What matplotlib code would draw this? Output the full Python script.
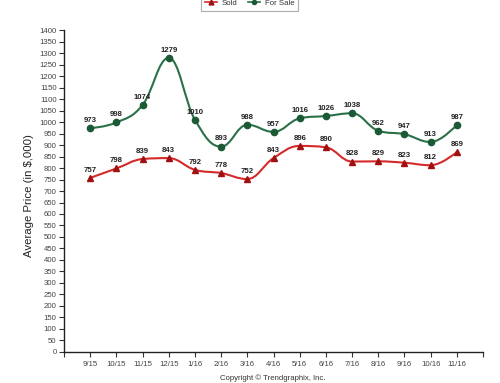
import matplotlib
matplotlib.use("Agg")
import matplotlib.pyplot as plt
from matplotlib.path import Path
from matplotlib.patches import PathPatch
from matplotlib.lines import Line2D

plt.rcParams['font.family'] = ['Liberation Sans', 'DejaVu Sans']

months = ["9/15", "10/15", "11/15", "12/15", "1/16", "2/16", "3/16", "4/16",
          "5/16", "6/16", "7/16", "8/16", "9/16", "10/16", "11/16"]
sold = [757, 798, 839, 843, 792, 778, 752, 843, 896, 890, 828, 829, 823, 812, 869]
for_sale = [973, 998, 1074, 1279, 1010, 893, 988, 957, 1016, 1026, 1038, 962, 947, 913, 987]

RED = "#d42a2a"
RED_M = "#a01010"
GREEN = "#2a7048"
GREEN_M = "#1c5a36"
TS = 5.6


def spline_path(xs, ys, smoothing=1.5):
    n = len(xs)
    lc = [(x, y) for x, y in zip(xs, ys)]
    rc = [(x, y) for x, y in zip(xs, ys)]
    d = smoothing + 1
    for i in range(1, n - 1):
        px, py = xs[i], ys[i]
        lx, ly = xs[i - 1], ys[i - 1]
        nx, ny = xs[i + 1], ys[i + 1]
        lcx = (smoothing * px + lx) / d
        lcy = (smoothing * py + ly) / d
        rcx = (smoothing * px + nx) / d
        rcy = (smoothing * py + ny) / d
        corr = ((rcy - lcy) * (rcx - px)) / (rcx - lcx) + py - rcy
        lcy += corr
        rcy += corr
        if lcy > ly and lcy > py:
            lcy = max(ly, py)
            rcy = 2 * py - lcy
        elif lcy < ly and lcy < py:
            lcy = min(ly, py)
            rcy = 2 * py - lcy
        if rcy > ny and rcy > py:
            rcy = max(ny, py)
            lcy = 2 * py - rcy
        elif rcy < ny and rcy < py:
            rcy = min(ny, py)
            lcy = 2 * py - rcy
        lc[i] = (lcx, lcy)
        rc[i] = (rcx, rcy)
    verts = [(xs[0], ys[0])]
    codes = [Path.MOVETO]
    for i in range(1, n):
        verts += [rc[i - 1], lc[i], (xs[i], ys[i])]
        codes += [Path.CURVE4] * 3
    return Path(verts, codes)


fig = plt.figure(figsize=(5.0, 3.83), dpi=100)
ax = fig.add_axes([0.128, 0.081, 0.838, 0.8406])

x = list(range(len(months)))
for vals, lc, mc, mk, ms in [(sold, RED, RED_M, '^', 5), (for_sale, GREEN, GREEN_M, 'o', 4.5)]:
    ax.add_patch(PathPatch(spline_path(x, vals), facecolor='none', edgecolor=lc, lw=1.5, zorder=2))
    ax.plot(x, vals, linestyle='none', marker=mk, markersize=ms, color=mc, zorder=3)
    for xi, v in zip(x, vals):
        ax.annotate(str(v), (xi, v), xytext=(0, 3.0), textcoords='offset points',
                    ha='center', va='bottom', fontsize=TS, fontweight='bold', color='#222222', zorder=4)

ax.set_xlim(-1, 15)
ax.set_ylim(0, 1400)
ax.set_xticks(list(range(-1, 16)))
ax.set_xticklabels([''] + months + [''])
ax.set_yticks(list(range(0, 1401, 50)))
ax.tick_params(axis='both', labelsize=TS, labelcolor='#444444', color='#333333', length=3.8, width=0.8, pad=1.5)
ax.tick_params(axis='x', pad=3)
for s in ['top', 'right']:
    ax.spines[s].set_visible(False)
for s in ['left', 'bottom']:
    ax.spines[s].set_color('#222222')
    ax.spines[s].set_linewidth(1.0)

fig.text(29 / 500, 1 - 196 / 383, "Average Price (in $,000)", rotation=90, ha='center', va='center',
         fontsize=8.2, color='#222222')

handles = [Line2D([], [], color=RED, marker='^', markersize=3.5, markerfacecolor=RED_M, markeredgecolor=RED_M, lw=1.2),
           Line2D([], [], color=GREEN, marker='o', markersize=3, markerfacecolor=GREEN_M, markeredgecolor=GREEN_M, lw=1.2)]
leg = fig.legend(handles, ["Sold", "For Sale"], loc='center', bbox_to_anchor=(249.5 / 500, 1 - 3.5 / 383),
                 ncol=2, frameon=True, fancybox=False, handlelength=1.6,
                 columnspacing=1.3, handletextpad=0.6, borderpad=0.5,
                 prop={'size': TS})
leg.get_frame().set_edgecolor('#999999')
leg.get_frame().set_linewidth(0.8)
for t in leg.get_texts():
    t.set_color('#333333')

fig.text(273 / 500, 1 - 378 / 383, "Copyright \u00a9 Trendgraphix, Inc.", ha='center', va='center',
         fontsize=TS, color='#333333')

fig.savefig("out.png", dpi=100)
